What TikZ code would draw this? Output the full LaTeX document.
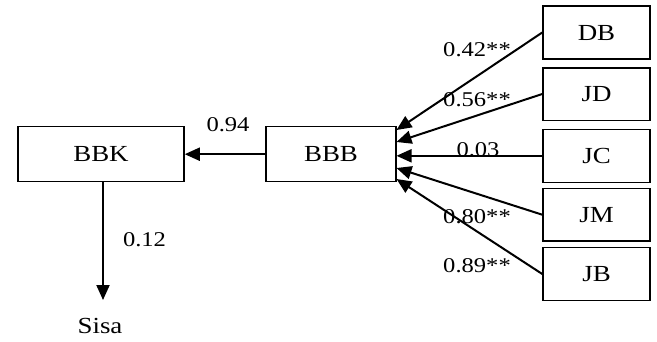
\documentclass[tikz,border=0pt]{standalone}
\usepackage{fontspec}
\usepackage{graphicx}
\setmainfont{Liberation Serif}
\newcommand{\wide}[1]{\scalebox{1.17}[1]{#1}}
\usetikzlibrary{arrows.meta}
\tikzset{
  box/.style={draw, line width=1.5pt, inner sep=0pt, font=\fontsize{23}{27}\selectfont},
  lbl/.style={inner sep=0pt, font=\fontsize{21}{25}\selectfont},
  arr/.style={line width=2pt, -{Triangle[length=15pt,width=13pt]}},
}
\begin{document}
\begin{tikzpicture}[x=1pt,y=-1pt]
\useasboundingbox (0,0) rectangle (657,341);
\node[box, minimum width=166pt, minimum height=55pt] (BBK) at (101,154.2) {\wide{BBK}};
\node[box, minimum width=130pt, minimum height=55pt] (BBB) at (331,154.2) {\wide{BBB}};
\node[box, minimum width=107pt, minimum height=53pt] (DB) at (596.5,32.5) {\wide{DB}};
\node[box, minimum width=107pt, minimum height=52.5pt] (JD) at (596.5,94) {\wide{JD}};
\node[box, minimum width=107pt, minimum height=53pt] (JC) at (596.5,155.8) {\wide{JC}};
\node[box, minimum width=107pt, minimum height=52.7pt] (JM) at (596.5,214.7) {\wide{JM}};
\node[box, minimum width=107pt, minimum height=53.4pt] (JB) at (596.5,274) {\wide{JB}};
\node[lbl, font=\fontsize{23}{27}\selectfont] (sisa) at (100,326) {\wide{Sisa}};
\coordinate (sisatip) at (103,300);
\coordinate (tDB) at (396.5,130);
\coordinate (tJD) at (396.5,142);
\coordinate (tJC) at (396.5,155.8);
\coordinate (tJM) at (396.5,168);
\coordinate (tJB) at (396.5,179);
\draw[arr] (BBB.west) -- (BBK.east);
\draw[arr] (BBK.south -| sisatip) -- (sisatip);
\draw[arr] (DB.west) -- (tDB);
\draw[arr] (JD.west) -- (tJD);
\draw[arr] (JC.west) -- (tJC);
\draw[arr] (JM.west) -- (tJM);
\draw[arr] (JB.west) -- (tJB);
\node[lbl] (l94) at (228,125) {\wide{0.94}};
\node[lbl] (l12) at (144.5,240) {\wide{0.12}};
\node[lbl] (l42) at (477,50) {\wide{0.42**}};
\node[lbl] (l56) at (477,100) {\wide{0.56**}};
\node[lbl] (l03) at (478,149.5) {\wide{0.03}};
\node[lbl] (l80) at (477,217) {\wide{0.80**}};
\node[lbl] (l89) at (477,266) {\wide{0.89**}};
\end{tikzpicture}
\end{document}
